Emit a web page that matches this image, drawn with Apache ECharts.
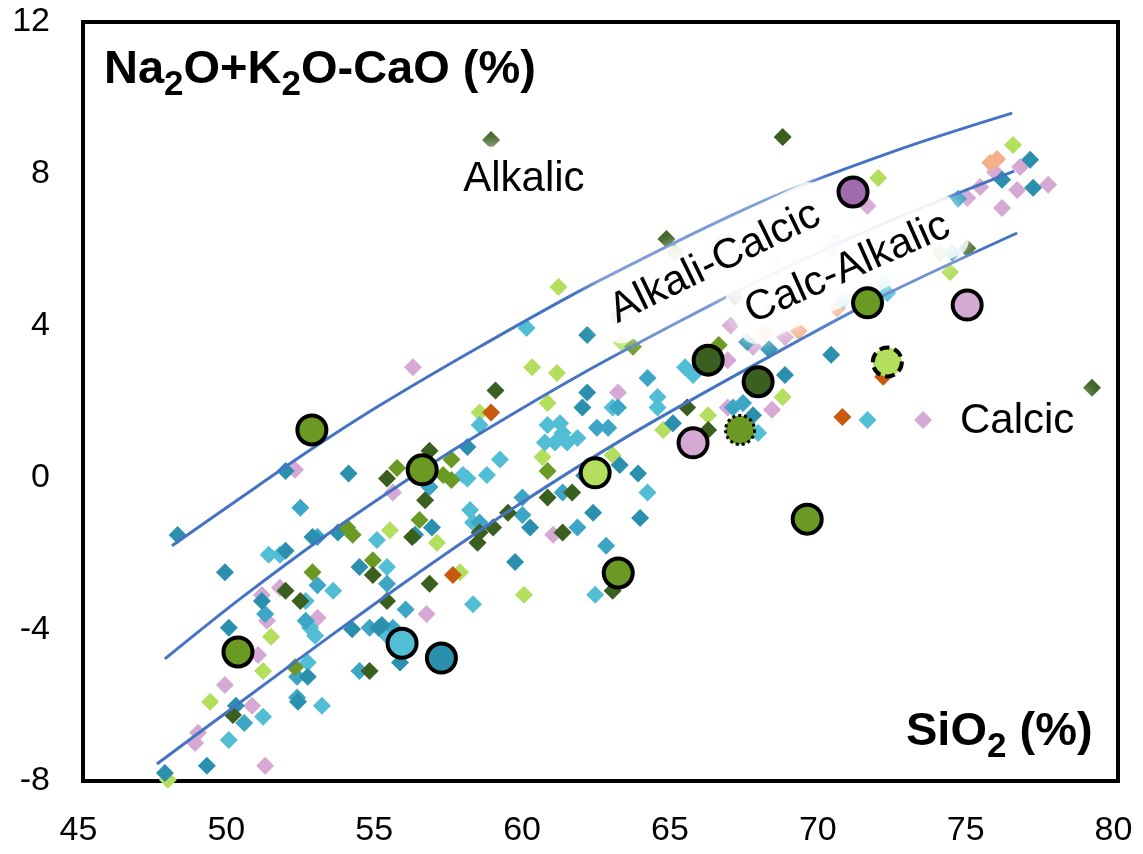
<!DOCTYPE html>
<html>
<head>
<meta charset="utf-8">
<title>MALI vs SiO2</title>
<script src="https://cdn.jsdelivr.net/npm/echarts@6/dist/echarts.min.js"></script>
<style>
  html, body { margin: 0; padding: 0; background: #ffffff; }
  #chart { width: 1143px; height: 854px; }
</style>
</head>
<body>
<div id="chart"></div>
<script>
// ---- axis ranges ----
const xMin = 45, xMax = 80, xStep = 5;
const yMin = -8, yMax = 12, yStep = 4;

// ---- sample analyses [SiO2 %, Na2O+K2O-CaO %], grouped by symbol colour ----
const darkTeal = [
  [48.2,-1.52],[51.85,0.17],[53.98,0.1],[52.76,-1.57],[53.62,-1.45],[51.85,-1.93],[49.8,-2.5],
  [54.35,-2.36],[51.05,-3.26],[52.6,-5.25],[54.1,-4.0],[55.0,-3.96],[49.93,-3.96],[50.17,-6.02],
  [52.27,-5.91],[49.19,-7.6],[47.77,-7.79],[55.72,-4.88],[55.11,-3.89],[58.0,0.8],[62.05,2.24],
  [61.89,1.84],[56.8,-1.32],[56.23,-1.51],[60.12,-1.32],[59.61,-2.23],[62.25,-0.93],[61.95,0.05],
  [63.15,0.33],[63.77,0.1],[63.84,-1.07],[62.05,3.75],[64.95,1.43],[67.46,3.57],[68.2,3.38],
  [67.66,1.64],[70.3,3.23],[68.74,2.7],[74.39,5.92],[77.03,8.37],[76.08,7.84],[77.13,7.63]
];
const midTeal = [
  [52.35,-0.8],[52.93,-1.57],[52.93,-2.84],[51.16,-3.6],[52.53,-3.78],[54.69,-3.96],[55.28,-2.8],
  [52.24,-5.25],[54.35,-5.1],[50.45,-6.47],[52.24,-5.8],[55.91,-3.48],[55.48,-3.96],[56.72,-0.25],
  [58.41,-1.19],[59.86,-0.53],[59.86,-0.99],[61.22,-0.4],[61.72,-1.32],[62.69,-1.8],[62.38,1.31],
  [62.76,1.31],[63.09,1.84],[64.09,2.62],[66.98,1.84],[67.32,1.96],[74.59,7.34]
];
const lightCyan = [
  [54.94,-1.65],[51.28,-2.04],[51.66,-2.04],[55.28,-2.36],[53.46,-2.99],[52.53,-3.26],[52.85,-4.17],
  [52.68,-3.96],[52.6,-4.88],[51.09,-6.31],[53.08,-6.02],[49.93,-6.92],[55.28,-4.17],[58.19,-3.34],
  [62.32,-3.09],[58.41,1.38],[60.71,1.38],[61.13,1.43],[61.22,1.17],[61.37,0.92],[61.72,1.04],
  [60.62,0.92],[60.96,0.92],[57.85,0.06],[58.0,-0.03],[58.66,0.06],[59.1,0.47],[58.09,-0.86],
  [58.19,-1.19],[60.0,3.94],[62.91,1.84],[64.09,-0.4],[64.43,2.12],[64.43,1.84],[65.36,2.9],
  [65.63,2.7],[67.83,1.17],[71.53,1.51],[70.68,4.66],[72.2,4.86],[72.06,5.12],[66.5,6.12]
];
const darkGreen = [
  [55.28,-0.03],[54.8,-2.57],[51.85,-2.99],[52.35,-3.26],[55.28,-3.26],[54.69,-5.1],[50.07,-6.26],
  [56.72,-2.8],[62.91,-2.99],[58.95,2.29],[56.72,0.7],[56.57,-0.6],[56.13,-1.57],[58.41,-1.45],
  [58.34,-1.72],[58.87,-1.32],[59.37,-0.93],[60.71,-0.53],[61.54,-0.4],[61.22,-1.45],[65.43,1.84],
  [66.14,1.25],[64.73,6.28],[67.05,4.76],[58.8,8.89],[68.66,8.97],[74.9,6.04],[79.12,2.36]
];
const green = [
  [55.62,0.25],[53.93,-1.32],[54.12,-1.51],[52.76,-2.5],[54.8,-2.18],[52.17,-5.0],[57.46,0.47],
  [57.18,0.06],[57.46,-0.07],[56.38,-1.12],[60.71,0.17],[63.6,3.44],[66.5,3.49],[73.98,5.92],
  [65.02,5.92],[63.09,4.23]
];
const lightGreen = [
  [55.38,-1.39],[51.36,-4.2],[51.09,-5.1],[49.3,-5.91],[47.87,-7.97],[56.97,-1.72],[57.75,-2.5],
  [59.91,-3.09],[58.41,1.71],[60.71,1.96],[61.08,5.02],[60.19,2.9],[61.03,2.75],[63.23,3.55],
  [60.54,0.54],[62.91,0.59],[66.14,1.64],[64.62,1.25],[68.66,2.12],[71.89,7.89],[76.45,8.76],
  [74.32,5.41]
];
const pink = [
  [52.17,0.2],[55.48,-0.4],[51.66,-2.91],[51.05,-3.1],[51.22,-3.78],[52.93,-3.7],[50.92,-4.68],
  [49.8,-5.47],[50.72,-6.02],[48.89,-6.73],[48.79,-7.0],[51.16,-7.6],[56.62,-3.6],[56.16,2.9],
  [63.09,2.24],[60.9,-1.51],[66.8,3.09],[67.66,3.44],[66.8,1.84],[66.9,4.0],[68.47,5.54],
  [68.3,1.78],[68.74,3.7],[71.53,7.15],[70.3,5.99],[70.45,6.2],[73.41,1.51],[75.84,8.05],
  [76.69,8.18],[75.34,7.65],[74.9,7.36],[76.59,7.57],[77.64,7.71],[76.08,7.1]
];
const orange = [[58.8,1.71],[57.51,-2.57],[70.68,1.59],[72.06,2.65]];
const lightOrange = [[75.68,8.29],[75.91,8.39],[69.2,3.86],[70.5,4.45],[68.3,4.41],[68.07,3.81]];

// ---- highlighted samples (large circles) ----
const circleGreen = [[52.74,1.25],[56.47,0.2],[50.24,-4.6],[63.1,-2.52],[69.49,-1.1],[71.53,4.6]];
const circleDarkGreen = [[66.14,3.09],[67.83,2.52]];
const circleLightGreen = [[62.32,0.12]];
const circlePink = [[65.63,0.91],[74.9,4.54]];
const circleCyan = [[55.79,-4.37]];
const circleTeal = [[57.12,-4.76]];
const circlePurple = [[71.04,7.52]];
const circleGreenDotted = [[67.22,1.25]];
const circleLightGreenDashed = [[72.2,3.04]];

// ---- MALI field boundaries ----
const alkalicBoundary = [
  [48.01,-1.8],[50.31,-0.55],[52.68,0.72],[55.04,1.9],[58.43,3.45],[62.25,5.1],[67.9,7.25],
  [72.63,8.65],[76.42,9.6]
];
const alkaliCalcicBoundary = [
  [47.77,-4.78],[50.31,-3.2],[53.35,-1.45],[56.38,0.15],[58.41,1.15],[61.8,2.7],[65.19,4.12],
  [67.9,5.2],[71.96,6.65],[76.49,8.07]
];
const calcAlkalicBoundary = [
  [47.5,-7.55],[50.31,-5.93],[52.98,-4.4],[55.82,-2.8],[59.61,-0.78],[63.5,1.12],[67.9,3.05],
  [71.96,4.75],[76.59,6.44]
];

// ---- field names, anchor points [SiO2, MALI] and text rotation (degrees) ----
const fieldNames = ['Alkalic', 'Alkali-Calcic', 'Calc-Alkalic', 'Calcic'];
const fieldAnchors = [[59.91,7.85],[66.37,5.66],[70.85,5.5],[76.59,1.48]];
const fieldRotations = [0, 26, 24, 0];

const FONT = '"Liberation Sans", Arial, Helvetica, sans-serif';

const diamondGroups = [
  { name: 'Pink', color: '#D6A9D4', data: pink },
  { name: 'Light orange', color: '#F5B08A', data: lightOrange },
  { name: 'Light green', color: '#B3DE5E', data: lightGreen },
  { name: 'Light cyan', color: '#52BED6', data: lightCyan },
  { name: 'Mid teal', color: '#3DA5C5', data: midTeal },
  { name: 'Dark teal', color: '#2B90AE', data: darkTeal },
  { name: 'Green', color: '#6B9A24', data: green },
  { name: 'Dark green', color: '#3B5F1E', data: darkGreen },
  { name: 'Orange', color: '#C8590F', data: orange }
];

const circleGroups = [
  { color: '#6B9A24', data: circleGreen, border: 'solid', width: 4 },
  { color: '#3B5F1E', data: circleDarkGreen, border: 'solid', width: 4 },
  { color: '#B3DE5E', data: circleLightGreen, border: 'solid', width: 4 },
  { color: '#D6A9D4', data: circlePink, border: 'solid', width: 4 },
  { color: '#52BED6', data: circleCyan, border: 'solid', width: 4 },
  { color: '#2B90AE', data: circleTeal, border: 'solid', width: 4 },
  { color: '#A06BAB', data: circlePurple, border: 'solid', width: 4 },
  { color: '#6B9A24', data: circleGreenDotted, border: 'dotted', width: 3 },
  { color: '#B3DE5E', data: circleLightGreenDashed, border: [10, 5], width: 4 }
];

const series = [];

// small diamonds: individual analyses
diamondGroups.forEach(g => {
  series.push({
    type: 'scatter', name: g.name, data: g.data,
    symbol: 'diamond', symbolSize: 18,
    itemStyle: { color: g.color, opacity: 1 },
    z: 2, silent: true
  });
});

// field boundaries
[alkalicBoundary, alkaliCalcicBoundary, calcAlkalicBoundary].forEach(b => {
  series.push({
    type: 'line', data: b, smooth: 0.3, showSymbol: false, symbol: 'none',
    lineStyle: { color: '#4472C4', width: 3, opacity: 1 },
    z: 3, silent: true
  });
});

// field names with a soft white halo (drawn below the large circles)
series.push({
  type: 'scatter',
  symbolSize: 0,
  z: 4, silent: true,
  itemStyle: { opacity: 1 },
  data: fieldNames.map((n, i) => ({
    name: n,
    value: fieldAnchors[i],
    label: { rotate: fieldRotations[i] }
  })),
  label: {
    show: true, position: 'inside',
    formatter: p => p.name,
    fontFamily: FONT, fontSize: 42, color: '#000000', opacity: 1,
    backgroundColor: 'rgba(255,255,255,0.8)',
    borderRadius: 16,
    padding: [12, 14, 12, 14],
    shadowColor: 'rgba(255,255,255,0.95)',
    shadowBlur: 20
  }
});

// large circles: highlighted samples
circleGroups.forEach(c => {
  series.push({
    type: 'scatter', data: c.data,
    symbol: 'circle', symbolSize: 29,
    itemStyle: { color: c.color, opacity: 1, borderColor: '#000000', borderWidth: c.width, borderType: c.border },
    z: 5, silent: true
  });
});

const option = {
  animation: false,
  backgroundColor: '#ffffff',
  grid: {
    left: 83, right: 25, top: 22, bottom: 73,
    show: true, borderColor: '#000000', borderWidth: 4, backgroundColor: 'transparent'
  },
  xAxis: {
    type: 'value', min: xMin, max: xMax, interval: xStep,
    axisLine: { show: false }, axisTick: { show: false }, splitLine: { show: false },
    axisLabel: { fontFamily: FONT, fontSize: 34, color: '#000000', margin: 33, padding: [0, 9, 0, 0] }
  },
  yAxis: {
    type: 'value', min: yMin, max: yMax, interval: yStep,
    axisLine: { show: false }, axisTick: { show: false }, splitLine: { show: false },
    axisLabel: { fontFamily: FONT, fontSize: 34, color: '#000000', margin: 33 }
  },
  graphic: [
    {
      type: 'text', left: 104, top: 47, z: 10, silent: true,
      style: {
        text: '{a|Na}{s|2}{a|O+K}{s|2}{a|O-CaO (%)}',
        rich: {
          a: { fontFamily: FONT, fontSize: 47, fontWeight: 'bold', color: '#000', lineHeight: 50, verticalAlign: 'top' },
          s: { fontFamily: FONT, fontSize: 35, fontWeight: 'bold', color: '#000', lineHeight: 36, padding: [21, 0, 0, 0], verticalAlign: 'top' }
        }
      }
    },
    {
      type: 'text', left: 906, top: 709, z: 10, silent: true,
      style: {
        text: '{a|SiO}{s|2}{a| (%)}',
        rich: {
          a: { fontFamily: FONT, fontSize: 47, fontWeight: 'bold', color: '#000', lineHeight: 50, verticalAlign: 'top' },
          s: { fontFamily: FONT, fontSize: 35, fontWeight: 'bold', color: '#000', lineHeight: 36, padding: [21, 0, 0, 0], verticalAlign: 'top' }
        }
      }
    }
  ],
  series: series
};

const chart = echarts.init(document.getElementById('chart'), null, { renderer: 'canvas' });
chart.setOption(option);
</script>
</body>
</html>
